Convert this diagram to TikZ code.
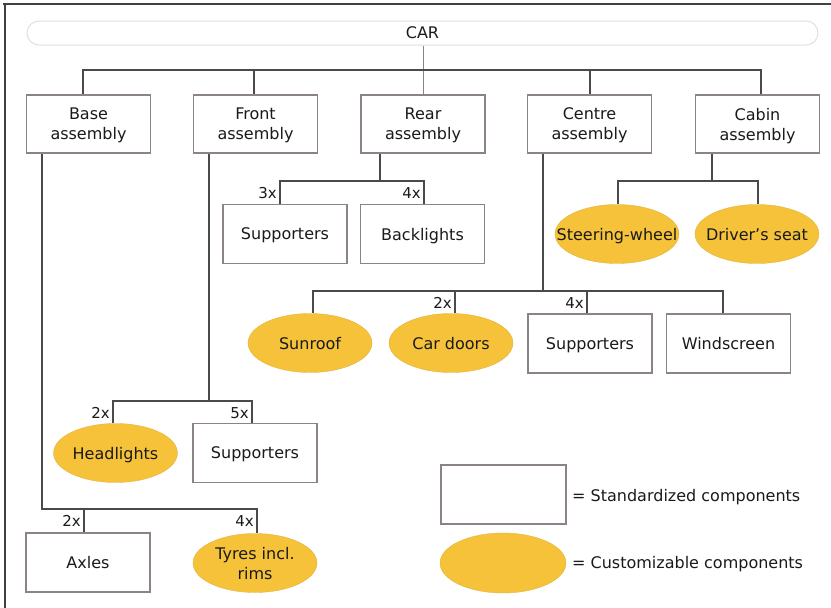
\documentclass[tikz,border=0pt]{standalone}
\usepackage{fontspec}
\setmainfont{DejaVu Sans}
\usetikzlibrary{shapes.geometric}
\definecolor{boxline}{HTML}{8C8484}
\definecolor{conn}{HTML}{4A4A4A}
\definecolor{custom}{HTML}{F5C23A}
\definecolor{txt}{HTML}{1A1A1A}
\newcommand{\ctrz}[1]{\makebox[0pt][c]{#1}}
\begin{document}
\begin{tikzpicture}[x=1pt,y=-1pt,
  every node/.style={font=\fontsize{16}{20}\selectfont, text=txt, text depth=0pt},
  stdbox/.style={draw=boxline, line width=1.1pt, fill=white, minimum width=124pt, minimum height=59pt, inner sep=0pt, align=center},
  asmbox/.style={stdbox, minimum height=58pt},
  custbox/.style={ellipse, fill=custom, draw=custom!90!black, line width=0.3pt, minimum width=124pt, minimum height=59pt, inner sep=0pt, align=center},
  conline/.style={draw=conn, line width=1.2pt},
  qty/.style={anchor=base east, inner sep=0pt, font=\fontsize{15}{18}\selectfont}
]
\useasboundingbox (0,0) rectangle (831,608);
\fill[white] (0,0) rectangle (831,608);
\draw[line width=2pt, draw=black!75] (3,4) -- (831,4);
\draw[line width=2pt, draw=black!75] (5,3) -- (5,608);

% root
\node[draw=black!12, line width=1pt, rounded corners=12pt, minimum width=791pt, minimum height=24pt, inner sep=0pt] (car) at (422.5,33) {CAR};

% assemblies
\node[asmbox] (base) at (88.5,124) {Base\\assembly};
\node[asmbox] (front) at (255.5,124) {Front\\assembly};
\node[asmbox] (rear) at (423,124) {Rear\\assembly};
\node[asmbox] (centre) at (589.5,124) {Centre\\assembly};
\node[asmbox] (cabin) at (757.5,124) {Cabin\\assembly};

\coordinate (busL) at (83,70);
\coordinate (busR) at (761,70);
\draw[draw=boxline, line width=0.8pt] (car.south -| rear) -- (rear.north);
\draw[conline] (base.north -| busL) -- (busL) -- (busR) -- (cabin.north -| busR);
\draw[conline] (front.north -| 254,0) -- (254,70);
\draw[conline] (centre.north -| 590,0) -- (590,70);

% rear parts
\node[stdbox] (rsup) at (285,234) {Supporters};
\node[stdbox] (back) at (422.5,234) {Backlights};
\draw[conline] (rear.south -| 380,0) -- (380,181);
\draw[conline] (rsup.north -| 280,0) -- (280,181) -- (424,181) -- (back.north -| 424,0);
\node[qty] at (277,198) {3x};
\node[qty] at (421,198) {4x};

% cabin parts
\node[custbox] (steer) at (617,234) {\ctrz{Steering-wheel}};
\node[custbox] (seat) at (757,234) {\ctrz{Driver's seat}};
\draw[conline] (cabin.south -| 712,0) -- (712,181);
\draw[conline] (steer.north -| 618,0) -- (618,181) -- (758,181) -- (seat.north -| 758,0);

% centre parts
\node[custbox] (sun) at (310,343) {\ctrz{Sunroof}};
\node[custbox] (doors) at (451,343) {\ctrz{Car doors}};
\node[stdbox] (csup) at (590,343.5) {Supporters};
\node[stdbox] (wind) at (728.5,343.5) {Windscreen};
\draw[conline] (centre.south -| 543,0) -- (543,291);
\draw[conline] (sun.north -| 313,0) -- (313,291) -- (723,291) -- (wind.north -| 723,0);
\draw[conline] (455,291) -- (doors.north -| 455,0);
\draw[conline] (587,291) -- (csup.north -| 587,0);
\node[qty] at (452,308) {2x};
\node[qty] at (584,308) {4x};

% front parts
\node[custbox] (head) at (115.5,453) {\ctrz{Headlights}};
\node[stdbox] (fsup) at (255,453) {Supporters};
\draw[conline] (front.south -| 209,0) -- (209,401);
\draw[conline] (head.north -| 113,0) -- (113,401) -- (252,401) -- (fsup.north -| 252,0);
\node[qty] at (110,418) {2x};
\node[qty] at (249,418) {5x};

% base parts
\node[stdbox] (axles) at (88,562.5) {Axles};
\node[custbox] (tyres) at (255,563) {\ctrz{Tyres incl.}\\\ctrz{rims}};
\draw[conline] (base.south -| 42,0) -- (42,509) -- (257,509) -- (tyres.north -| 257,0);
\draw[conline] (84,509) -- (axles.north -| 84,0);
\node[qty] at (81,526) {2x};
\node[qty] at (254,526) {4x};

% legend
\node[stdbox, minimum width=125pt] (legstd) at (503.5,494.5) {};
\node[custbox, minimum width=126pt, minimum height=60pt] (legcus) at (503,563) {};
\node[anchor=west, inner sep=0pt] (legstdt) at (572,495) {= Standardized components};
\node[anchor=west, inner sep=0pt] (legcust) at (572,562) {= Customizable components};
\end{tikzpicture}
\end{document}
